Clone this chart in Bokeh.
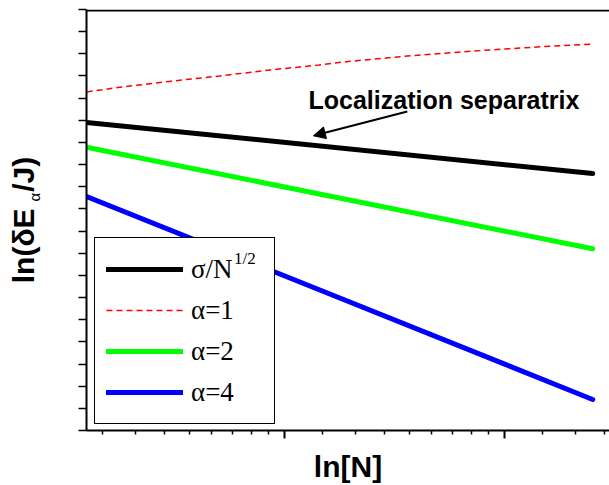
import math
from bokeh.plotting import figure
from bokeh.models import (Range1d, FixedTicker, Label, Arrow, NormalHead,
                          Legend, LegendItem, Span, LinearAxis)
from bokeh.embed import file_html
from bokeh.resources import INLINE

# ---------------- data ----------------
N_ends = [8.17, 81.5]                       # N at both ends of the straight curves
sep_vals = [-2.05, -3.20]                   # sigma / N^{1/2}  (localization separatrix)
a2_vals = [-2.61, -4.90]                    # alpha = 2
a4_vals = [-3.72, -8.30]                    # alpha = 4
N_a1 = [8.17, 9.49, 11.9, 14.95, 18.8, 23.5, 26.6, 35.1, 47.4, 64.3, 81.5]
a1_vals = [-1.36, -1.257, -1.122, -1.00, -0.865, -0.753, -0.678, -0.550, -0.438, -0.341, -0.281]

x_major_exps = [2, 3, 4]                    # majors at e^n (natural-log axis)
y_ticks = [-9.0, -8.5, -8.0, -7.5, -7.0, -6.5, -6.0, -5.5, -5.0, -4.5, -4.0, -3.5,
           -3.0, -2.5, -2.0, -1.5, -1.0, -0.5, 0.0, 0.5]

arrow_start = (35.1, -1.80)
arrow_end = (22.9, -2.35)

legend_labels = ["σ/N", "α=1", "α=2", "α=4"]
legend_sup = "1/2"
x_title = "ln[N]"
y_title = "ln(δE\u00a0\u00a0/J)"
y_sub = "\u00a0" * 11 + "α"

# ---------------- ticks ----------------
x_major = [math.exp(n) for n in x_major_exps]
x_minor = []
for n in x_major_exps:
    lo, hi = math.exp(n), math.exp(n + 1)
    step = (hi - lo) / 9.0
    x_minor += [lo + k * step for k in range(1, 9)]

# ---------------- figure ----------------
p = figure(width=609, height=485, x_axis_type="log",
           x_range=Range1d(math.exp(2.1), math.exp(4.477)),
           y_range=Range1d(-9.0, 0.5),
           output_backend="svg", toolbar_location=None,
           min_border_left=86, min_border_right=0, min_border_top=9, min_border_bottom=53)
p.outline_line_color = None
p.xgrid.visible = False
p.ygrid.visible = False
p.background_fill_color = "white"

# x axis
xa = p.xaxis[0]
xa.ticker = FixedTicker(ticks=x_major, minor_ticks=x_minor)
xa.major_label_text_color = None
xa.major_label_text_font_size = "1px"
xa.major_label_standoff = 0
xa.major_tick_out = 8
xa.major_tick_in = 0
xa.minor_tick_out = 4
xa.minor_tick_in = 0
xa.axis_line_width = 2
xa.major_tick_line_width = 2
xa.minor_tick_line_width = 1.5
xa.axis_line_color = "black"
xa.major_tick_line_color = "black"
xa.minor_tick_line_color = "black"
xa.axis_label = x_title
xa.axis_label_text_font = "Liberation Sans"
xa.axis_label_text_font_style = "bold"
xa.axis_label_text_font_size = "30px"
xa.axis_label_text_color = "black"
xa.axis_label_standoff = 11

# y axis (ticks + subscript of the title)
ya = p.yaxis[0]
ya.ticker = FixedTicker(ticks=y_ticks)
ya.major_label_text_color = None
ya.major_label_text_font_size = "1px"
ya.major_label_standoff = 0
ya.major_tick_out = 8
ya.major_tick_in = 0
ya.minor_tick_line_color = None
ya.axis_line_width = 2
ya.major_tick_line_width = 1.5
ya.axis_line_color = "black"
ya.major_tick_line_color = "black"
ya.axis_label = y_sub
ya.axis_label_text_font = "Liberation Sans"
ya.axis_label_text_font_style = "normal"
ya.axis_label_text_font_size = "15px"
ya.axis_label_text_color = "black"
ya.axis_label_standoff = 36

# second, bare left axis carrying the main part of the y title
ya2 = LinearAxis(ticker=FixedTicker(ticks=y_ticks), axis_line_color=None,
                 major_tick_line_color=None, minor_tick_line_color=None,
                 major_tick_out=0, major_tick_in=0, minor_tick_out=0, minor_tick_in=0,
                 major_label_text_color=None, major_label_text_font_size="1px",
                 major_label_standoff=0,
                 axis_label=y_title, axis_label_text_font="Liberation Sans",
                 axis_label_text_font_style="bold", axis_label_text_font_size="30px",
                 axis_label_text_color="black", axis_label_standoff=-17)
p.add_layout(ya2, "left")

# top frame line
p.add_layout(Span(location=0.478, dimension="width", line_color="black", line_width=2))

# curves
r_sep = p.line(N_ends, sep_vals, line_color="black", line_width=5, line_cap="round")
r_a1 = p.line(N_a1, a1_vals, line_color="red", line_width=1.5, line_dash="6 4")
r_a2 = p.line(N_ends, a2_vals, line_color="#00ff00", line_width=5, line_cap="round")
r_a4 = p.line(N_ends, a4_vals, line_color="blue", line_width=5, line_cap="round")

legend = Legend(items=[LegendItem(label=legend_labels[0], renderers=[r_sep]),
                       LegendItem(label=legend_labels[1], renderers=[r_a1]),
                       LegendItem(label=legend_labels[2], renderers=[r_a2]),
                       LegendItem(label=legend_labels[3], renderers=[r_a4])],
                location=(8, 6), glyph_width=77, glyph_height=40, label_height=40,
                label_width=72, spacing=1, padding=11, label_standoff=8,
                label_text_font="Liberation Serif", label_text_font_size="27px",
                label_text_color="black",
                border_line_color="black", border_line_width=1.5, border_line_alpha=1.0,
                background_fill_color="white", background_fill_alpha=1.0)
p.add_layout(legend, "center")

# superscript "1/2" of the first legend entry, as a second bare legend on top
sup_legend = Legend(items=[LegendItem(label=legend_sup, renderers=[r_a1])],
                    location=(148, 161), glyph_width=0, glyph_height=20, label_height=20,
                    label_width=10, spacing=0, padding=0, label_standoff=0,
                    label_text_font="Liberation Serif", label_text_font_size="17px",
                    label_text_color="black", border_line_color=None,
                    background_fill_alpha=0.0)
p.add_layout(sup_legend, "center")

# annotation
p.add_layout(Label(x=222, y=331, x_units="screen", y_units="screen",
                   text="Localization separatrix", text_font="Liberation Sans",
                   text_font_style="bold", text_font_size="25px", text_color="black",
                   text_baseline="alphabetic", text_align="left"))
p.add_layout(Arrow(end=NormalHead(size=12, fill_color="black", line_color="black"),
                   x_start=arrow_start[0], y_start=arrow_start[1],
                   x_end=arrow_end[0], y_end=arrow_end[1],
                   line_width=2, line_color="black"))

open("out.html", "w").write(file_html(p, INLINE))
